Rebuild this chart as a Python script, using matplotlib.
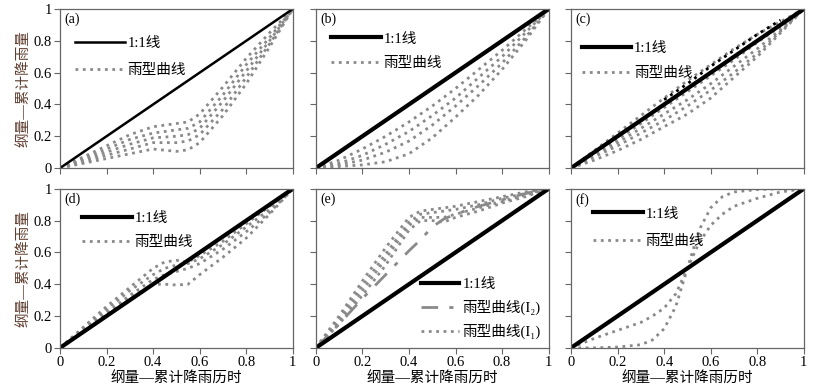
import numpy as np
import matplotlib.pyplot as plt
from matplotlib.lines import Line2D

# =====================
# DATA
# =====================
X = [0, 0.1, 0.2, 0.3, 0.4, 0.5, 0.6, 0.7, 0.8, 0.9, 1.0]
ONE = [0, 1]

A_X = [0, 0.1, 0.2, 0.3, 0.4, 0.5, 0.55, 0.6, 0.7, 0.8, 0.9, 1.0]
A_CURVES = [
    [0, 0.07, 0.14, 0.21, 0.26, 0.28, 0.29, 0.34, 0.51, 0.69, 0.85, 1.0],
    [0, 0.06, 0.12, 0.18, 0.22, 0.24, 0.25, 0.29, 0.46, 0.65, 0.82, 1.0],
    [0, 0.05, 0.10, 0.15, 0.19, 0.20, 0.21, 0.25, 0.42, 0.61, 0.80, 1.0],
    [0, 0.04, 0.08, 0.12, 0.16, 0.16, 0.17, 0.21, 0.37, 0.57, 0.78, 1.0],
    [0, 0.03, 0.06, 0.09, 0.12, 0.105, 0.115, 0.16, 0.33, 0.53, 0.76, 1.0],
]

B_CURVES = [
    [0, 0.05, 0.12, 0.20, 0.29, 0.39, 0.50, 0.62, 0.74, 0.87, 1.0],
    [0, 0.03, 0.08, 0.15, 0.23, 0.33, 0.44, 0.57, 0.70, 0.85, 1.0],
    [0, 0.02, 0.05, 0.10, 0.17, 0.27, 0.39, 0.52, 0.66, 0.82, 1.0],
    [0, 0.01, 0.02, 0.04, 0.09, 0.19, 0.32, 0.46, 0.62, 0.80, 1.0],
]

C_UPPER = [0, 0.11, 0.22, 0.33, 0.44, 0.55, 0.65, 0.75, 0.84, 0.92, 1.0]
C_BLACK = [0, 0.10, 0.21, 0.32, 0.43, 0.53, 0.64, 0.74, 0.84, 0.93, 1.0]
C_CURVES = [
    [0, 0.09, 0.18, 0.28, 0.38, 0.48, 0.58, 0.68, 0.79, 0.89, 1.0],
    [0, 0.08, 0.16, 0.25, 0.34, 0.43, 0.53, 0.64, 0.75, 0.87, 1.0],
    [0, 0.07, 0.14, 0.22, 0.30, 0.39, 0.49, 0.60, 0.72, 0.86, 1.0],
    [0, 0.05, 0.11, 0.18, 0.26, 0.34, 0.44, 0.57, 0.70, 0.85, 1.0],
]

D_X = [0, 0.1, 0.2, 0.3, 0.4, 0.45, 0.5, 0.55, 0.6, 0.7, 0.8, 0.9, 1.0]
D_CURVES = [
    [0, 0.13, 0.26, 0.38, 0.50, 0.54, 0.55, 0.54, 0.58, 0.67, 0.78, 0.89, 1.0],
    [0, 0.12, 0.24, 0.36, 0.46, 0.50, 0.52, 0.53, 0.56, 0.65, 0.76, 0.87, 1.0],
    [0, 0.11, 0.22, 0.33, 0.43, 0.46, 0.48, 0.50, 0.53, 0.62, 0.73, 0.85, 1.0],
    [0, 0.10, 0.21, 0.31, 0.40, 0.40, 0.395, 0.40, 0.46, 0.57, 0.69, 0.84, 1.0],
]

E_X = [0, 0.1, 0.2, 0.3, 0.4, 0.45, 0.5, 0.55, 0.6, 0.7, 0.8, 0.9, 1.0]
E_I1 = [
    [0, 0.20, 0.42, 0.63, 0.82, 0.86, 0.87, 0.88, 0.89, 0.92, 0.95, 0.98, 1.0],
    [0, 0.18, 0.39, 0.59, 0.79, 0.84, 0.85, 0.86, 0.87, 0.90, 0.94, 0.97, 1.0],
    [0, 0.16, 0.36, 0.56, 0.77, 0.82, 0.82, 0.82, 0.84, 0.88, 0.92, 0.96, 1.0],
    [0, 0.15, 0.33, 0.52, 0.74, 0.80, 0.80, 0.79, 0.82, 0.86, 0.91, 0.95, 1.0],
]
E_I2 = [0, 0.15, 0.31, 0.46, 0.61, 0.68, 0.76, 0.81, 0.84, 0.89, 0.93, 0.97, 1.0]

F_X = [0, 0.1, 0.2, 0.3, 0.35, 0.4, 0.45, 0.5, 0.55, 0.6, 0.65, 0.7, 0.8, 0.9, 1.0]
F_STEEP = [0, 0.0, 0.005, 0.02, 0.05, 0.12, 0.26, 0.50, 0.74, 0.88, 0.95, 0.98, 0.995, 1.0, 1.0]
F_MILD = [0, 0.06, 0.11, 0.16, 0.20, 0.25, 0.34, 0.50, 0.66, 0.77, 0.84, 0.89, 0.94, 0.98, 1.0]

TICKS = [0, 0.2, 0.4, 0.6, 0.8, 1.0]
TICK_LABELS = ["0", "0.2", "0.4", "0.6", "0.8", "1"]
PANELS = ["(a)", "(b)", "(c)", "(d)", "(e)", "(f)"]

# =====================
# STYLE
# =====================
FONTS = ["Liberation Serif", "Noto Sans CJK SC", "DejaVu Sans"]
plt.rcParams["font.family"] = FONTS
plt.rcParams["font.size"] = 10.5

GRAY = "#8a8a8a"
DOT = dict(color=GRAY, lw=2.0, ls=":")
DASHDOT = (0, (6, 4, 1.5, 4))

fig = plt.figure(figsize=(8.14, 3.9), dpi=100)
lefts = [0.0737, 0.388, 0.7015]
bottoms = [0.569, 0.108]
w, h = 0.286, 0.408
axes = []
for r in range(2):
    for c in range(3):
        ax = fig.add_axes([lefts[c], bottoms[r], w, h])
        ax.set_xlim(0, 1)
        ax.set_ylim(0, 1)
        ax.set_xticks(TICKS)
        ax.set_yticks(TICKS)
        ax.set_xticklabels(TICK_LABELS if r == 1 else [])
        ax.set_yticklabels(TICK_LABELS if c == 0 else [])
        ax.tick_params(direction="out", length=4, color="#666666", width=0.8, pad=2)
        for s in ax.spines.values():
            s.set_color("#666666")
            s.set_linewidth(0.9)
        ax.text(0.02, 0.975, PANELS[r * 3 + c], transform=ax.transAxes,
                va="top", ha="left", fontsize=10)
        if c == 0:
            ax.set_ylabel("纲量—累计降雨量", color="#5e3d2e", fontsize=10.5, labelpad=2)
        if r == 1:
            ax.set_xlabel("纲量—累计降雨历时", fontsize=10.5, labelpad=2)
        axes.append(ax)

ax_a, ax_b, ax_c, ax_d, ax_e, ax_f = axes


def two_legend(ax, lw_one, anchor, spacing=0.9):
    handles = [Line2D([], [], color="black", lw=lw_one),
               Line2D([], [], **DOT)]
    ax.legend(handles, ["1:1线", "雨型曲线"], loc="upper left",
              bbox_to_anchor=anchor, frameon=False, handlelength=3.4,
              handletextpad=0.2, labelspacing=spacing, fontsize=10.5,
              borderaxespad=0)


# (a)
for yv in A_CURVES:
    ax_a.plot(A_X, yv, **DOT)
ax_a.plot(ONE, ONE, color="black", lw=1.8)
two_legend(ax_a, 1.8, (0.04, 0.86), 0.95)

# (b)
for yv in B_CURVES:
    ax_b.plot(X, yv, **DOT)
ax_b.plot(ONE, ONE, color="black", lw=3)
two_legend(ax_b, 3, (0.04, 0.89), 0.8)

# (c)
for yv in C_CURVES:
    ax_c.plot(X, yv, **DOT)
ax_c.plot(X, C_UPPER, **DOT)
ax_c.plot(ONE, ONE, color="black", lw=3)
ax_c.plot(X[4:10], C_BLACK[4:10], color="black", lw=2.0, ls=":")
two_legend(ax_c, 3, (0.02, 0.83), 0.8)

# (d)
for yv in D_CURVES:
    ax_d.plot(D_X, yv, **DOT)
ax_d.plot(ONE, ONE, color="black", lw=3)
two_legend(ax_d, 3, (0.07, 0.89), 0.75)

# (e)
for yv in E_I1:
    ax_e.plot(E_X, yv, **DOT)
ax_e.plot(E_X, E_I2, color=GRAY, lw=2, ls=DASHDOT)
ax_e.plot(ONE, ONE, color="black", lw=3)
e_handles = [Line2D([], [], color="black", lw=3),
             Line2D([], [], color=GRAY, lw=2, ls=DASHDOT),
             Line2D([], [], **DOT)]
ax_e.legend(e_handles, ["1:1线", "雨型曲线(I₂)", "雨型曲线(I₁)"],
            loc="lower right", bbox_to_anchor=(0.99, 0.02), frameon=False,
            handlelength=2.6, handletextpad=0.2, labelspacing=0.6,
            fontsize=10.5, borderaxespad=0)

# (f)
ax_f.plot(F_X, F_STEEP, **DOT)
ax_f.plot(F_X, F_MILD, **DOT)
ax_f.plot(ONE, ONE, color="black", lw=3)
two_legend(ax_f, 3, (0.07, 0.92), 1.0)

fig.savefig("out.png", dpi=100)
